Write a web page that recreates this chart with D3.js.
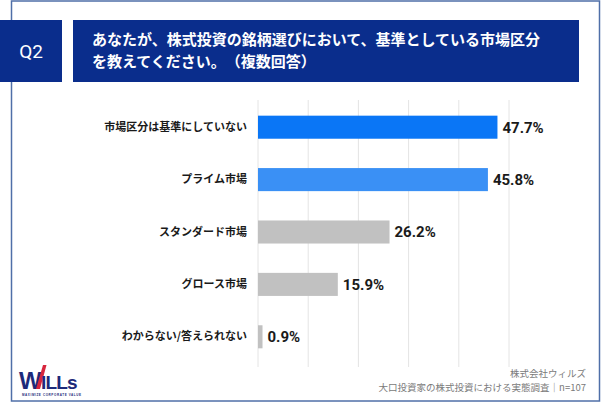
<!DOCTYPE html>
<html>
<head>
<meta charset="utf-8">
<script src="https://cdn.jsdelivr.net/npm/d3@7"></script>
<style>
  html, body { margin: 0; padding: 0; background: #fff; }
  svg { display: block; text-spacing-trim: space-all; }
  text { font-family: "Noto Sans CJK JP", "Noto Sans", sans-serif; text-spacing-trim: space-all; }
</style>
</head>
<body>
<svg id="chart" width="602" height="404"></svg>
<script>
const categories = ["市場区分は基準にしていない", "プライム市場", "スタンダード市場", "グロース市場", "わからない/答えられない"];
const values = [47.7, 45.8, 26.2, 15.9, 0.9];
const barColors = ["#0a76f6", "#3a90f5", "#c1c1c1", "#c1c1c1", "#c1c1c1"];
const xTicks = [0, 10, 20, 30, 40, 50];
const titleLines = ["あなたが、株式投資の銘柄選びにおいて、基準としている市場区分", "を教えてください。（複数回答）"];
const questionLabel = "Q2";
const footerLines = ["株式会社ウィルズ", "大口投資家の株式投資における実態調査｜n=107"];

const svg = d3.select("#chart");

// outer frame
svg.append("rect").attr("x", 11.5).attr("y", 1).attr("width", 588).attr("height", 400)
  .attr("fill", "#fff").attr("stroke", "#4f6fa8").attr("stroke-width", 1.5);

// header boxes
svg.append("rect").attr("x", 0).attr("y", 20).attr("width", 62).attr("height", 62).attr("fill", "#0a2d8c");
svg.append("text").attr("x", 31).attr("y", 57.5).attr("text-anchor", "middle")
  .attr("fill", "#fff").attr("font-size", 19).attr("font-weight", 400)
  .style("font-family", "Roboto, 'Noto Sans', sans-serif").text(questionLabel);
svg.append("rect").attr("x", 73).attr("y", 20).attr("width", 506).attr("height", 62).attr("fill", "#0a2d8c");
svg.selectAll("text.title").data(titleLines).join("text").attr("class", "title")
  .attr("x", 92).attr("y", (d, i) => 45 + i * 22)
  .attr("fill", "#fff").attr("font-size", 15).attr("font-weight", 700).text(d => d);

// scales
const x = d3.scaleLinear().domain([0, 50]).range([258, 509]);
const y = d3.scaleBand().domain(categories).range([101, 363]).paddingInner(0.56).paddingOuter(0.28);

// gridlines
svg.append("g").selectAll("line").data(xTicks).join("line")
  .attr("x1", d => x(d)).attr("x2", d => x(d)).attr("y1", 100).attr("y2", 367)
  .attr("stroke", "#e4e4e4").attr("stroke-width", 1);

// bars
svg.append("g").selectAll("rect").data(values).join("rect")
  .attr("x", x(0)).attr("y", (d, i) => y(categories[i]))
  .attr("width", d => x(d) - x(0)).attr("height", y.bandwidth())
  .attr("fill", (d, i) => barColors[i]);

// value labels
svg.append("g").selectAll("text").data(values).join("text")
  .attr("x", d => x(d) + 5).attr("y", (d, i) => y(categories[i]) + y.bandwidth() / 2)
  .attr("dy", "0.36em").attr("font-size", 15).attr("font-weight", 700).attr("fill", "#1a1a1a")
  .style("font-family", "Roboto, 'Noto Sans', sans-serif")
  .text(d => d.toFixed(1) + "%");

// category axis
const yAxis = d3.axisLeft(y).tickSize(0).tickPadding(0);
const gy = svg.append("g").attr("transform", "translate(247,0)").call(yAxis);
gy.select(".domain").remove();
gy.selectAll("text").attr("font-size", 11).attr("font-weight", 700).attr("fill", "#1a1a1a")
  .style("font-family", "'Noto Sans CJK JP', sans-serif");

// footer
svg.selectAll("text.footer").data(footerLines).join("text").attr("class", "footer")
  .attr("x", 586).attr("y", (d, i) => 376.5 + i * 14).attr("text-anchor", "end")
  .attr("fill", "#7a7a7a").attr("font-size", 9.5).text(d => d);

// logo
const logo = svg.append("g");
logo.append("text").attr("x", 19).attr("y", 389).attr("fill", "#1d2a7a")
  .attr("font-size", 24).attr("font-weight", 700).attr("letter-spacing", -1.5)
  .style("font-family", "'Liberation Sans', Arial, sans-serif").text("W");
logo.append("path").attr("d", "M36,389 L43,365 L46.5,365 L40,389 Z").attr("fill", "#d7263d");
logo.append("text").attr("x", 41).attr("y", 389).attr("fill", "#1d2a7a")
  .attr("font-size", 19).attr("font-weight", 700).attr("letter-spacing", -0.8)
  .style("font-family", "'Liberation Sans', Arial, sans-serif").text("ILLs");
logo.append("text").attr("x", 22).attr("y", 395.5).attr("fill", "#1d2a7a")
  .attr("font-size", 3).attr("font-weight", 700).attr("letter-spacing", 0.6)
  .style("font-family", "'Liberation Sans', Arial, sans-serif").text("MAXIMIZE CORPORATE VALUE");
</script>
</body>
</html>
